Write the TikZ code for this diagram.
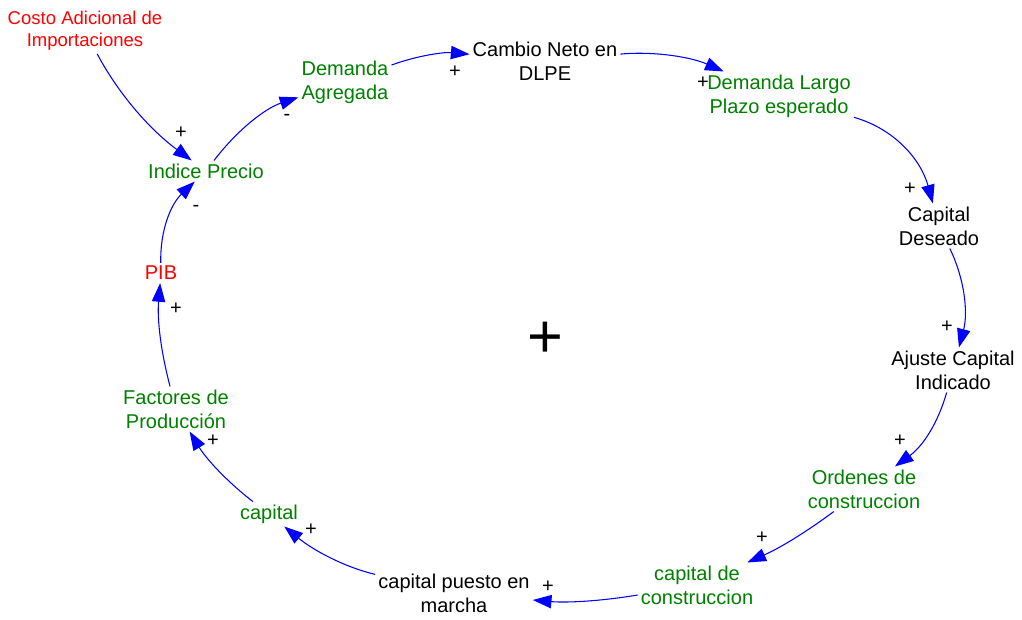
\documentclass[tikz,border=0pt]{standalone}
\usepackage{fontspec}
\setmainfont{Liberation Sans}
\usepackage{tikz}
\usetikzlibrary{arrows.meta}
\definecolor{vblue}{RGB}{0,0,255}
\definecolor{vgreen}{RGB}{0,128,0}
\definecolor{vred}{RGB}{255,0,0}

\begin{document}
\begin{tikzpicture}[x=0.75pt,y=0.75pt,yscale=-1,xscale=1,
  var/.style={inner sep=2.2pt, align=center, font=\fontsize{15}{18}\selectfont},
  lnk/.style={draw=vblue, line width=0.8pt, -{Triangle[length=14pt,width=10pt,fill=vblue]}},
  pol/.style={inner sep=0pt, font=\fontsize{15}{18}\selectfont}]
%set diagram size to 1022 x 619
\useasboundingbox (0,0) rectangle (1022,619);

% Text Node
\node [var, text=vred, font=\fontsize{13.9}{16.5}\selectfont] (cai) at (85,31) {Costo Adicional de\\Importaciones};
% Text Node
\node [var, text=vgreen] (dag) at (345,82) {Demanda\\Agregada};
% Text Node
\node [var] (cne) at (545,61) {Cambio Neto en\\DLPE};
% Text Node
\node [var, text=vgreen] (dlpe) at (779,96) {Demanda Largo\\Plazo esperado};
% Text Node
\node [var] (cdes) at (939,226) {Capital\\Deseado};
% Text Node
\node [var] (aci) at (953,370) {Ajuste Capital\\Indicado};
% Text Node
\node [var, text=vgreen] (ocons) at (864,489) {Ordenes de\\construccion};
% Text Node
\node [var, text=vgreen] (ccons) at (697,585) {capital de\\construccion};
% Text Node
\node [var] (cpm) at (454,593) {capital puesto en\\marcha};
% Text Node
\node [var, text=vgreen] (cap) at (269,514) {capital};
% Text Node
\node [var, text=vgreen] (fprod) at (176,409) {Factores de\\Producción};
% Text Node
\node [var, text=vred] (pib) at (161,273) {PIB};
% Text Node
\node [var, text=vgreen] (iprec) at (206,171) {Indice Precio};

%Curve Lines
\draw [lnk] (cai) .. controls (118,93) and (149,129) .. (iprec);
\draw [lnk] (iprec) .. controls (238,129) and (266,108) .. (dag);
\draw [lnk] (pib) .. controls (160,230) and (171,204) .. (iprec);
\draw [lnk] (dag) .. controls (419,55) and (445,52) .. (cne);
\draw [lnk] (cne) .. controls (654,51) and (691,57) .. (dlpe);
\draw [lnk] (dlpe) .. controls (895,129) and (921,160) .. (cdes);
\draw [lnk] (cdes) .. controls (965,280) and (968,313) .. (aci);
\draw [lnk] (aci) .. controls (938,423) and (923,446) .. (ocons);
\draw [lnk] (ocons) .. controls (809,530) and (782,547) .. (ccons);
\draw [lnk] (ccons) .. controls (602,601) and (567,603) .. (cpm);
\draw [lnk] (cpm) .. controls (344,567) and (313,550) .. (cap);
\draw [lnk] (cap) .. controls (225,480) and (205,457) .. (fprod);
\draw [lnk] (fprod) .. controls (161,352) and (157,320) .. (pib);

% Polarity Nodes
\node [pol] (s1) at (181,133) {+};
\node [pol] (s2) at (287,117) {-};
\node [pol] (s3) at (196,208) {-};
\node [pol] (s4) at (455,72) {+};
\node [pol] (s5) at (703,83) {+};
\node [pol] (s6) at (910,189) {+};
\node [pol] (s7) at (947,327) {+};
\node [pol] (s8) at (900,441) {+};
\node [pol] (s9) at (762,538) {+};
\node [pol] (s10) at (548,587) {+};
\node [pol] (s11) at (311,530) {+};
\node [pol] (s12) at (213,441) {+};
\node [pol] (s13) at (176,309) {+};
% Loop Node
\node [inner sep=0pt, font=\fontsize{46}{46}\selectfont] (loop) at (545,340) {+};
\end{tikzpicture}
\end{document}
